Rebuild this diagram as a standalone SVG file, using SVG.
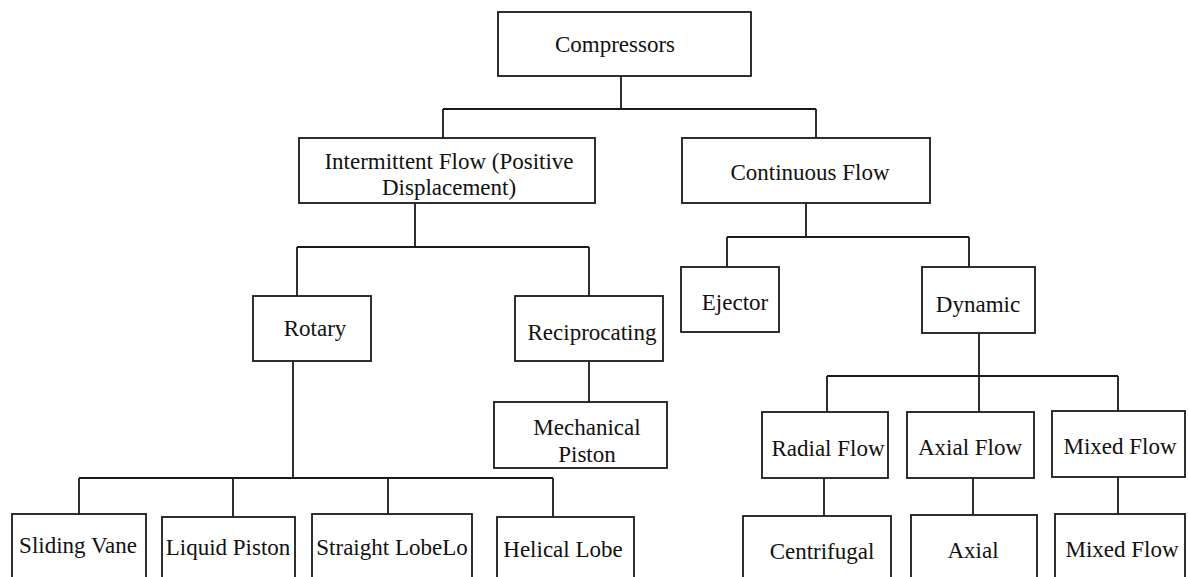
<svg xmlns="http://www.w3.org/2000/svg" width="1188" height="577" viewBox="0 0 1188 577">
  <style>
    .box { fill: #ffffff; stroke: #1a1a1a; stroke-width: 1.8; }
    .link { fill: none; stroke: #1a1a1a; stroke-width: 1.8; }
    .label { font-family: "Liberation Serif", "Times New Roman", serif; font-size: 23px; fill: #111111; text-anchor: middle; }
  </style>
  <rect width="1188" height="577" fill="#ffffff"/>

  <!-- tree connectors -->
  <g id="connectors" class="link">
    <path d="M621 76 V109 M443 109 H816 M443 109 V138 M816 109 V138"/>
    <path d="M415 203 V247 M297 247 H589 M297 247 V296 M589 247 V296"/>
    <path d="M806 203 V237 M727 237 H969 M727 237 V267 M969 237 V267"/>
    <path d="M589 361 V402"/>
    <path d="M293 361 V478 M79 478 H553 M79 478 V514 M233 478 V517 M388 478 V514 M553 478 V517"/>
    <path d="M979 333 V412 M827 376 H1118 M827 376 V412 M1118 376 V411"/>
    <path d="M824 478 V516 M973 478 V515 M1118 477 V514"/>
  </g>

  <g id="compressors">
    <rect class="box" x="498" y="12" width="253" height="64"/>
    <text class="label" x="615" y="52">Compressors</text>
  </g>
  <g id="intermittent-flow">
    <rect class="box" x="299" y="138" width="296" height="65"/>
    <text class="label" x="449" y="169">Intermittent Flow (Positive</text>
    <text class="label" x="449" y="195">Displacement)</text>
  </g>
  <g id="continuous-flow">
    <rect class="box" x="682" y="138" width="248" height="65"/>
    <text class="label" x="810" y="180">Continuous Flow</text>
  </g>
  <g id="rotary">
    <rect class="box" x="253" y="296" width="118" height="65"/>
    <text class="label" x="315" y="336">Rotary</text>
  </g>
  <g id="reciprocating">
    <rect class="box" x="515" y="296" width="148" height="65"/>
    <text class="label" x="592" y="340">Reciprocating</text>
  </g>
  <g id="mechanical-piston">
    <rect class="box" x="494" y="402" width="173" height="66"/>
    <text class="label" x="587" y="435">Mechanical</text>
    <text class="label" x="587" y="462">Piston</text>
  </g>
  <g id="ejector">
    <rect class="box" x="681" y="267" width="98" height="65"/>
    <text class="label" x="735" y="310">Ejector</text>
  </g>
  <g id="dynamic">
    <rect class="box" x="922" y="267" width="113" height="66"/>
    <text class="label" x="978" y="312">Dynamic</text>
  </g>
  <g id="radial-flow">
    <rect class="box" x="762" y="412" width="126" height="66"/>
    <text class="label" x="828" y="456">Radial Flow</text>
  </g>
  <g id="axial-flow">
    <rect class="box" x="907" y="412" width="127" height="66"/>
    <text class="label" x="970" y="455">Axial Flow</text>
  </g>
  <g id="mixed-flow">
    <rect class="box" x="1052" y="411" width="133" height="66"/>
    <text class="label" x="1120" y="454">Mixed Flow</text>
  </g>
  <g id="sliding-vane">
    <rect class="box" x="12" y="514" width="134" height="70"/>
    <text class="label" x="78" y="553">Sliding Vane</text>
  </g>
  <g id="liquid-piston">
    <rect class="box" x="162" y="517" width="133" height="70"/>
    <text class="label" x="228" y="555">Liquid Piston</text>
  </g>
  <g id="straight-lobe">
    <rect class="box" x="312" y="514" width="160" height="70"/>
    <text class="label" x="392" y="555">Straight LobeLo</text>
  </g>
  <g id="helical-lobe">
    <rect class="box" x="497" y="517" width="137" height="70"/>
    <text class="label" x="563" y="557">Helical Lobe</text>
  </g>
  <g id="centrifugal">
    <rect class="box" x="743" y="516" width="148" height="70"/>
    <text class="label" x="822" y="559">Centrifugal</text>
  </g>
  <g id="axial">
    <rect class="box" x="911" y="515" width="126" height="70"/>
    <text class="label" x="973" y="558">Axial</text>
  </g>
  <g id="mixed-flow-stage">
    <rect class="box" x="1055" y="514" width="130" height="70"/>
    <text class="label" x="1122" y="557">Mixed Flow</text>
  </g>
</svg>
